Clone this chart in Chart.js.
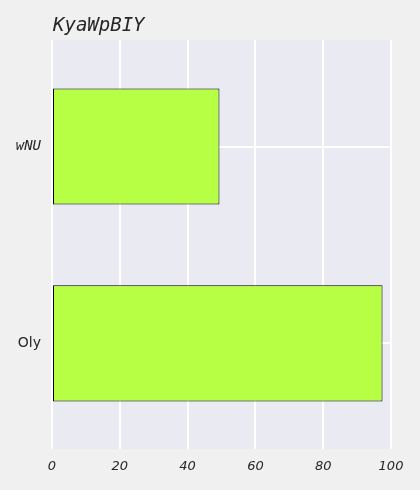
<!DOCTYPE html>
<html>
<head>
<meta charset="utf-8">
<script src="https://cdn.jsdelivr.net/npm/chart.js@4"></script>
<style>
html,body{margin:0;padding:0;background:#f0f0f0;}
#wrap{width:420px;height:490px;position:relative;}
</style>
</head>
<body>
<div id="wrap"><canvas id="c" width="420" height="490"></canvas></div>
<script>
const title = "KyaWpBIY";
const categories = ["Oly", "wNU"];      // bottom to top
const values = [97.5, 49.4];
const xTicks = [0, 20, 40, 60, 80, 100];

const points = categories.map((c, i) => ({x: values[i], y: i}));

const bgPlugin = {
  id: 'bg',
  beforeDraw(chart) {
    const {ctx, chartArea: a} = chart;
    ctx.save();
    ctx.fillStyle = '#f0f0f0';
    ctx.fillRect(0, 0, chart.width, chart.height);
    ctx.fillStyle = '#eaeaf2';
    ctx.fillRect(a.left, a.top, a.right - a.left, a.bottom - a.top);
    ctx.restore();
  },
  afterDraw(chart) {
    const {ctx, chartArea: a} = chart;
    ctx.save();
    ctx.font = 'italic 19px "DejaVu Sans Mono"';
    ctx.fillStyle = '#262626';
    ctx.textBaseline = 'alphabetic';
    ctx.textAlign = 'left';
    ctx.fillText(title, a.left + 1, 31);
    ctx.restore();
  }
};

new Chart(document.getElementById('c'), {
  type: 'bar',
  data: {
    datasets: [{
      data: points,
      backgroundColor: '#b6ff45',
      borderColor: '#000000',
      borderWidth: 1,
      borderSkipped: false,
      barPercentage: 0.59,
      categoryPercentage: 1
    }]
  },
  options: {
    indexAxis: 'y',
    responsive: false,
    animation: false,
    devicePixelRatio: 1,
    layout: {padding: {top: 40, right: 29, bottom: 0, left: 0}},
    plugins: {legend: {display: false}, title: {display: false}, tooltip: {enabled: false}},
    scales: {
      x: {
        type: 'linear',
        min: 0, max: 100,
        afterBuildTicks(s) { s.ticks = xTicks.map(v => ({value: v})); },
        afterFit(s) { s.height = 41; },
        grid: {color: '#ffffff', lineWidth: 2, drawTicks: false},
        border: {display: false},
        ticks: {
          color: '#262626',
          padding: 10,
          font: {family: '"DejaVu Sans"', size: 13, style: 'italic'},
          maxRotation: 0
        }
      },
      y: {
        type: 'linear',
        offset: false,
        min: -0.536, max: 1.541,
        afterBuildTicks(s) { s.ticks = categories.map((c, i) => ({value: i})); },
        afterFit(s) { s.width = 52; },
        grid: {color: '#ffffff', lineWidth: 2, drawTicks: false, offset: false},
        border: {display: false},
        ticks: {
          color: '#262626',
          padding: 11,
          callback: (v) => categories[v],
          font: (ctx) => ctx.index === 1
            ? {family: '"DejaVu Sans Mono"', size: 14, style: 'italic'}
            : {family: '"DejaVu Sans"', size: 14, style: 'normal'}
        }
      }
    }
  },
  plugins: [bgPlugin]
});
</script>
</body>
</html>
